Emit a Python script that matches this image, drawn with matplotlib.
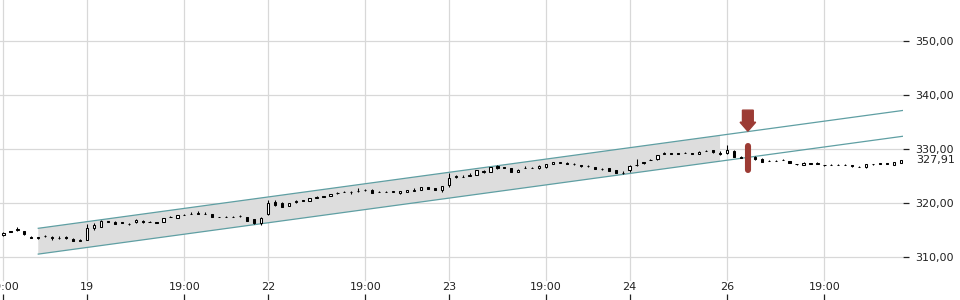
import matplotlib
matplotlib.use("Agg")
import matplotlib.pyplot as plt
import matplotlib.transforms as mtransforms
from matplotlib.patches import FancyArrow, Polygon
import numpy as np

# ---- data: 15-minute candles (index = trading slot, overnight gaps removed) ----
opens = [314.0, 314.75, 315.0, 314.8, 313.7, 313.45, 313.85, 313.55, 313.45, 313.65, 313.4, 313.0,
         313.2, 315.4, 315.6, 316.7, 316.5, 316.45, 316.2, 316.4, 316.75, 316.45, 316.4, 316.5,
         317.4, 317.2, 317.85, 317.95, 318.05, 318.0, 318.0, 317.45, 317.45, 317.5, 317.55, 317.4,
         317.0, 316.3,
         318.0, 320.2, 320.0, 319.5, 320.25, 320.5, 320.45, 320.95, 321.3, 321.3, 321.9, 322.05,
         322.05, 322.15, 322.35, 322.5, 322.05, 322.05, 322.05, 321.8, 322.0, 322.3, 322.5, 323.0,
         322.7, 322.5,
         323.3, 324.85, 324.85, 325.0, 325.2, 325.75, 325.8, 326.9, 326.65, 326.4, 325.8, 326.45,
         326.45, 326.4, 326.6, 327.2, 327.55, 327.5, 327.15, 327.0, 326.9, 326.7, 326.35, 326.4,
         326.1, 325.65,
         326.2, 326.95, 327.6, 327.95, 328.1, 329.15, 329.25, 329.25, 329.25, 329.25, 329.1, 329.65,
         329.8, 329.25,
         329.2, 329.6, 328.6, 328.55, 328.6, 328.1, 327.85, 327.85, 327.95, 327.8, 327.25, 327.0,
         327.4, 327.3, 327.05, 327.05, 327.05, 327.05, 326.95, 326.75, 326.6, 327.25, 327.4, 327.35,
         327.0, 327.5]
highs = [314.6, 314.8, 315.6, 314.9, 313.85, 313.8, 314.1, 313.95, 313.9, 313.9, 313.5, 313.3,
         316.1, 316.3, 316.8, 316.75, 316.6, 316.5, 316.25, 316.95, 316.8, 316.65, 316.45, 317.25,
         317.65, 317.85, 317.9, 318.4, 318.6, 318.25, 318.05, 317.5, 317.65, 317.55, 317.85, 317.45,
         317.05, 317.5,
         320.6, 320.5, 320.1, 320.05, 320.6, 320.55, 321.0, 321.25, 321.35, 321.75, 321.95, 322.25,
         322.3, 322.7, 322.6, 322.55, 322.3, 322.3, 322.3, 322.25, 322.45, 322.7, 322.95, 323.05,
         322.75, 323.15,
         325.5, 325.1, 325.1, 325.5, 326.15, 326.1, 326.75, 326.95, 326.7, 326.45, 326.25, 326.9,
         326.7, 326.95, 327.25, 327.65, 327.6, 327.55, 327.4, 327.05, 326.95, 326.75, 326.4, 326.45,
         326.15, 325.9,
         327.0, 328.1, 327.65, 328.2, 328.95, 329.4, 329.3, 329.3, 329.5, 329.3, 329.55, 329.9,
         329.85, 329.6,
         330.7, 329.9, 328.65, 328.9, 328.65, 328.4, 327.9, 327.9, 328.2, 327.85, 327.3, 327.55,
         327.45, 327.55, 327.1, 327.3, 327.3, 327.3, 327.0, 326.8, 327.25, 327.3, 327.45, 327.4,
         327.65, 327.95]
lows = [313.9, 314.6, 314.9, 314.1, 313.45, 313.4, 313.8, 313.2, 313.4, 313.3, 312.95, 312.95,
        313.1, 315.0, 315.5, 316.4, 316.05, 316.25, 315.95, 316.35, 316.35, 316.4, 316.3, 316.45,
        317.35, 317.15, 317.7, 317.9, 318.0, 317.95, 317.35, 317.35, 317.4, 317.4, 317.5, 316.65,
        316.15, 316.0,
        317.8, 319.5, 319.25, 319.45, 320.0, 320.4, 320.4, 320.85, 321.1, 321.25, 321.65, 322.0,
        321.7, 322.1, 322.3, 321.85, 322.0, 322.0, 322.0, 321.75, 321.95, 322.25, 322.45, 322.55,
        322.35, 322.0,
        323.0, 324.6, 324.8, 324.95, 325.15, 325.5, 325.75, 326.35, 326.5, 325.75, 325.75, 326.4,
        326.4, 326.35, 326.55, 327.15, 327.4, 327.15, 327.1, 326.7, 326.75, 326.25, 326.2, 325.95,
        325.55, 325.3,
        325.7, 326.9, 327.3, 327.9, 328.05, 329.1, 329.1, 329.1, 329.2, 329.1, 329.05, 329.6,
        329.35, 328.9,
        329.15, 328.55, 328.3, 328.5, 328.05, 327.55, 327.7, 327.7, 327.9, 327.35, 327.1, 326.95,
        327.25, 327.25, 326.9, 327.0, 327.0, 327.0, 326.7, 326.6, 326.55, 327.1, 327.25, 327.2,
        326.95, 327.45]
closes = [314.5, 314.65, 315.1, 314.2, 313.6, 313.75, 313.95, 313.7, 313.55, 313.55, 313.0, 313.1,
          315.3, 315.9, 316.7, 316.5, 316.1, 316.35, 316.15, 316.9, 316.4, 316.5, 316.35, 317.2,
          317.5, 317.8, 317.75, 318.05, 318.15, 318.05, 317.4, 317.4, 317.5, 317.45, 317.6, 316.7,
          316.3, 317.2,
          320.0, 319.6, 319.3, 320.0, 320.35, 320.45, 320.9, 321.1, 321.15, 321.7, 321.85, 322.1,
          321.95, 322.25, 322.4, 321.9, 322.1, 322.1, 322.15, 322.2, 322.4, 322.35, 322.9, 322.6,
          322.4, 323.1,
          324.7, 324.95, 324.9, 325.1, 326.1, 325.85, 326.7, 326.4, 326.55, 325.8, 326.2, 326.55,
          326.5, 326.9, 327.2, 327.6, 327.45, 327.2, 327.2, 326.8, 326.8, 326.3, 326.25, 326.0,
          325.6, 325.55,
          326.9, 327.05, 327.35, 328.0, 328.9, 329.2, 329.15, 329.15, 329.3, 329.15, 329.5, 329.7,
          329.4, 329.15,
          329.9, 328.6, 328.4, 328.6, 328.1, 327.6, 327.75, 327.8, 328.0, 327.4, 327.15, 327.5,
          327.3, 327.35, 326.95, 327.1, 327.1, 327.1, 326.8, 326.65, 327.2, 327.15, 327.3, 327.25,
          327.6, 327.91]

# x-axis tick positions (slot index) and labels
xtick_pos = [0, 12, 26, 38, 52, 64, 78, 90, 104, 118]
xtick_labels = ["19:00", "19", "19:00", "22", "19:00", "23", "19:00", "24", "26", "19:00"]
ytick_vals = [310, 320, 330, 340, 350]
last_price = 327.91

# trend channel
chan_x = [5, 129.6]
chan_upper = [315.32, 337.2]
chan_width = 4.78
chan_fill_end = 103

# signal marker
sig_idx = 107
sig_arrow_top, sig_arrow_tip = 337.2, 333.3
sig_bar_top, sig_bar_bottom = 330.6, 326.2

# ---- figure ----
W, H = 960, 300
fig = plt.figure(figsize=(W / 100, H / 100), dpi=100)
ax = fig.add_axes([0, 0, 903 / W, 1])
ax.set_xlim(-0.5, 129.3)
ax.set_ylim(302.04, 357.6)

for s in ax.spines.values():
    s.set_visible(False)

grid_c = "#d8d8d8"
for v in ytick_vals:
    ax.axhline(v, color=grid_c, lw=0.9, zorder=0)
for p in xtick_pos:
    ax.axvline(p, ymin=20 / H, ymax=1, color=grid_c, lw=0.9, zorder=0)

# channel
xs = np.array(chan_x, dtype=float)
up = np.array(chan_upper)
slope = (up[1] - up[0]) / (xs[1] - xs[0])
def upper_at(x):
    return up[0] + slope * (x - xs[0])
fill_poly = Polygon([[xs[0], upper_at(xs[0])], [chan_fill_end, upper_at(chan_fill_end)],
                     [chan_fill_end, upper_at(chan_fill_end) - chan_width],
                     [xs[0], upper_at(xs[0]) - chan_width]],
                    closed=True, facecolor="#dddddd", edgecolor="none", zorder=1)
ax.add_patch(fill_poly)
teal = "#5f9fa3"
ax.plot(xs, up, color=teal, lw=0.9, zorder=3)
ax.plot(xs, up - chan_width, color=teal, lw=0.9, zorder=3)

# candles
idx = np.arange(len(closes))
o = np.array(opens); c = np.array(closes); h = np.array(highs); l = np.array(lows)
ax.vlines(idx, l, h, color="black", lw=0.75, zorder=4)
isup = c >= o
body_h = np.abs(c - o)
body_b = np.minimum(o, c)
ax.bar(idx[isup], body_h[isup], bottom=body_b[isup], width=0.32, facecolor="white",
       edgecolor="black", linewidth=0.75, zorder=5)
ax.bar(idx[~isup], body_h[~isup], bottom=body_b[~isup], width=0.32, facecolor="black",
       edgecolor="black", linewidth=0.75, zorder=5)

# signal arrow & bar
red = "#9c3b34"
px_y = (357.6 - 302.04) / H
arrow = FancyArrow(sig_idx, sig_arrow_top, 0, sig_arrow_tip - sig_arrow_top,
                   width=1.55, head_width=2.25, head_length=9 * px_y,
                   length_includes_head=True, color=red, zorder=6)
ax.add_patch(arrow)
ax.plot([sig_idx, sig_idx], [sig_bar_top, sig_bar_bottom], color=red, lw=4.4,
        solid_capstyle="round", zorder=6)

# y axis on right
ax.yaxis.tick_right()
ax.set_yticks(ytick_vals)
ax.set_yticklabels([f"{v:.2f}".replace(".", ",") for v in ytick_vals])
ax.tick_params(axis="y", direction="out", length=4.3, width=0.9, pad=4.5,
               labelsize=8, colors="#222222")

# x ticks: marks inside at bottom, labels as text inside
ax.set_xticks(xtick_pos)
ax.set_xticklabels([])
ax.tick_params(axis="x", direction="in", length=4.5, width=0.9, colors="#222222")
for p, lab in zip(xtick_pos, xtick_labels):
    ax.text(p, 12.5 / H, lab, transform=ax.get_xaxis_transform(), ha="center",
            va="center", fontsize=8, color="#222222")

# last price label
trans = mtransforms.blended_transform_factory(ax.transAxes, ax.transData) + \
    mtransforms.ScaledTranslation(13 / 100, 0, fig.dpi_scale_trans)
ax.text(1.0, last_price, f"{last_price:.2f}".replace(".", ","), transform=trans,
        ha="left", va="center", fontsize=8, color="#222222", clip_on=False)

fig.savefig("out.png", dpi=100)
